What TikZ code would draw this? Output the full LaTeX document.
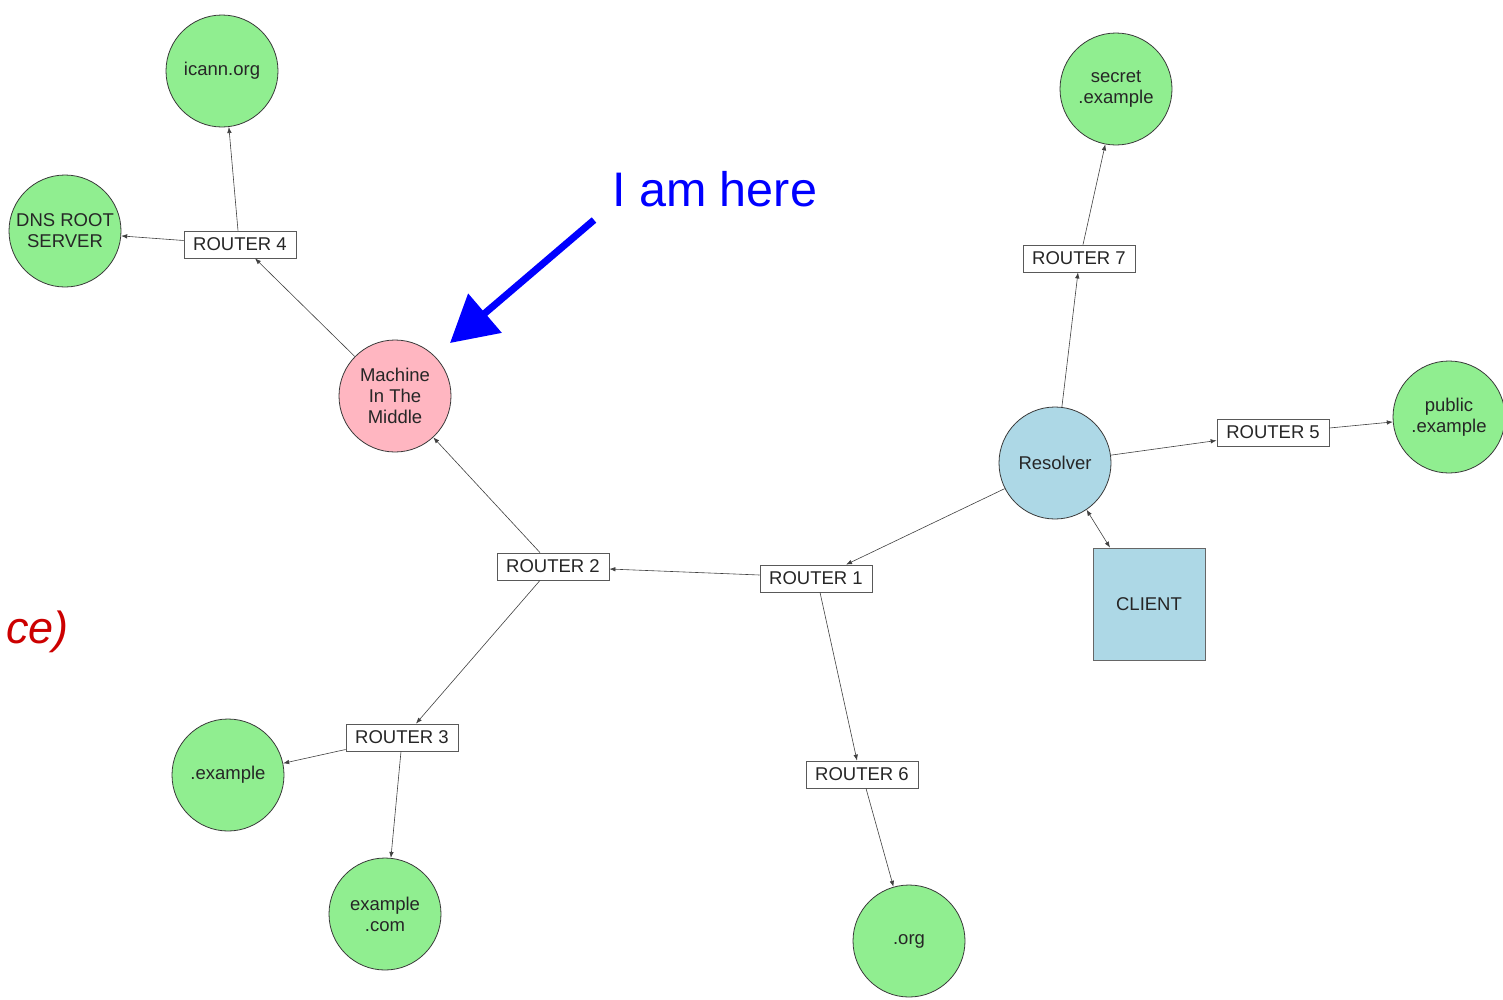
\documentclass[tikz,border=0pt]{standalone}
\usepackage{fontspec}
\setmainfont{Liberation Sans}
\usetikzlibrary{arrows.meta,calc}

\definecolor{hostgreen}{HTML}{90EE90}
\definecolor{hostpink}{HTML}{FFB6C1}
\definecolor{hostblue}{HTML}{ADD8E6}
\definecolor{edgegray}{HTML}{3A3A3A}
\definecolor{notered}{HTML}{CC0000}

\tikzset{
  host/.style={circle, draw=edgegray, line width=0.8pt, minimum size=112pt,
    inner sep=0pt, align=center, font=\fontsize{18.5}{21}\selectfont, text=black!85,
    execute at begin node={\vspace*{4pt}}},
  greenhost/.style={host, fill=hostgreen},
  router/.style={rectangle, draw=black!65, line width=0.8pt, fill=white,
    minimum width=112pt, minimum height=27pt, inner sep=0pt,
    font=\fontsize{18.5}{21}\selectfont, text=black!85},
  link/.style={draw=black!75, line width=0.6pt, -{Latex[length=6pt,width=4.5pt]}},
  duplex/.style={draw=black!75, line width=0.6pt,
    {Latex[length=6pt,width=4.5pt]}-{Latex[length=6pt,width=4.5pt]}},
}

\begin{document}
\begin{tikzpicture}[x=1pt, y=-1pt]
\useasboundingbox (0,0) rectangle (1503,999);

% hosts
\node[greenhost] (icann) at (222,71) {icann.org};
\node[greenhost] (dnsroot) at (65,231) {DNS ROOT\\SERVER};
\node[greenhost] (secret) at (1116,89) {secret\\.example};
\node[greenhost] (public) at (1449,417) {public\\.example};
\node[greenhost] (tldex) at (228,775) {.example};
\node[greenhost] (excom) at (385,914) {example\\.com};
\node[greenhost] (org) at (909,941) {.org};
\node[host, fill=hostpink] (mitm) at (395,396) {Machine\\In The\\Middle};
\node[host, fill=hostblue] (resolver) at (1055,463) {Resolver};
\node[rectangle, draw=black!60, line width=0.8pt, fill=hostblue,
      minimum width=112pt, minimum height=112pt, inner sep=0pt,
      font=\fontsize{18.5}{21}\selectfont, text=black!85] (client) at (1149,604) {CLIENT};

% routers
\node[router] (r1) at (816,578.5) {ROUTER 1};
\node[router] (r2) at (553,566.5) {ROUTER 2};
\node[router] (r3) at (402,737.5) {ROUTER 3};
\node[router] (r4) at (240,244.5) {ROUTER 4};
\node[router] (r5) at (1273,432.5) {ROUTER 5};
\node[router] (r6) at (862,774.5) {ROUTER 6};
\node[router] (r7) at (1079,258.5) {ROUTER 7};

% links
\draw[link] ([xshift=-2pt]r4.north) -- (icann.-83);
\draw[link] ([yshift=4pt]r4.west) -- (dnsroot.-5);
\draw[link] (mitm) -- ([xshift=15pt]r4.south);
\draw[link] ([xshift=-13pt]r2.north) -- (mitm);
\draw[link] ([yshift=3.5pt]r1.west) -- ([yshift=-2.5pt]r2.east);
\draw[link] ([xshift=-13pt]r2.south) -- ([xshift=14pt]r3.north);
\draw[link] ([yshift=-12pt]r3.west) -- (tldex.12);
\draw[link] ([xshift=-1pt]r3.south) -- (excom.84);
\draw[link] ([xshift=4pt]r1.south) -- ([xshift=-5pt]r6.north);
\draw[link] ([xshift=4pt]r6.south) -- (org.106);
\draw[link] (resolver.207) -- ([xshift=30pt]r1.north);
\draw[link] (resolver.83) -- ([xshift=-1pt]r7.south);
\draw[link] ([xshift=4pt]r7.north) -- (secret.259);
\draw[link] (resolver.8) -- ([yshift=-8pt]r5.west);
\draw[link] ([yshift=4.5pt]r5.east) -- (public.185);
\draw[duplex] (resolver.-56) -- ([xshift=-39pt]client.north);

% callout
\node[anchor=base west, inner sep=0pt, text=blue,
      font=\fontsize{48.5}{52}\selectfont] (here) at (612,206) {I am here};
\coordinate (hereTail) at (594,220);
\coordinate (hereTip) at (450,343);
\draw[blue, line width=7pt, -{Triangle[length=46pt,width=50pt]}] (hereTail) -- (hereTip);

% partial note at the left edge
\node[anchor=base west, inner sep=0pt, text=notered,
      font=\fontsize{45}{50}\selectfont\itshape] (note) at (6,643) {ce)};
\end{tikzpicture}
\end{document}
